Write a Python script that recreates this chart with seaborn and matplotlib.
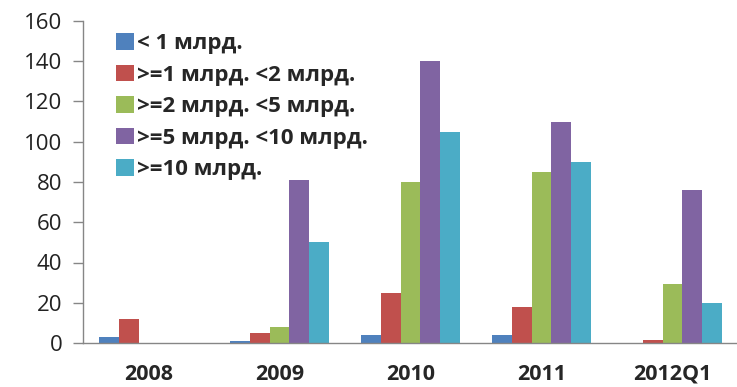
import matplotlib
matplotlib.use("Agg")
import matplotlib.pyplot as plt
import seaborn as sns
import pandas as pd
import numpy as np

# Number of deals by size bracket and period
periods = ["2008", "2009", "2010", "2011", "2012Q1"]
brackets = ["< 1 млрд.", ">=1 млрд. <2 млрд.", ">=2 млрд. <5 млрд.",
            ">=5 млрд. <10 млрд.", ">=10 млрд."]
lt1 = [3, 1, 4, 4, 0]
b1_2 = [12, 5, 25, 18, 1.5]
b2_5 = [0, 8, 80, 85, 29.5]
b5_10 = [0, 81, 140, 110, 76]
ge10 = [0, 50, 105, 90, 20]
colors = ["#4F81BD", "#C0504D", "#9BBB59", "#8064A2", "#4BACC6"]
yticks = [0, 20, 40, 60, 80, 100, 120, 140, 160]

series = [lt1, b1_2, b2_5, b5_10, ge10]
df = pd.DataFrame({
    "period": np.repeat([periods], len(brackets), axis=0).ravel(),
    "bracket": np.repeat(brackets, len(periods)),
    "count": np.concatenate(series),
})

sns.set_style("white")
plt.rcParams["font.family"] = ["Open Sans", "DejaVu Sans"]

fig = plt.figure(figsize=(7.37, 3.87), dpi=100)
ax = fig.add_axes([83 / 737, 1 - 343 / 387, 655 / 737, 322 / 387])

sns.barplot(data=df, x="period", y="count", hue="bracket",
            order=periods, hue_order=brackets, palette=colors,
            width=0.76, saturation=1, edgecolor="none", ax=ax)

ax.set_xlim(-0.5, len(periods) - 0.5)
ax.set_ylim(0, 160)
ax.set_yticks(yticks)
ax.set_xlabel("")
ax.set_ylabel("")

grey = "#868686"
for side in ("top", "right"):
    ax.spines[side].set_visible(False)
for side in ("left", "bottom"):
    ax.spines[side].set_color(grey)
    ax.spines[side].set_linewidth(1)
ax.spines["bottom"].set_clip_on(False)

ax.set_xticks(np.arange(-0.5, len(periods)), minor=True)
ax.tick_params(axis="x", which="major", length=0, pad=15, labelsize=15.5)
ax.tick_params(axis="x", which="minor", length=7, color=grey, width=1)
ax.tick_params(axis="y", which="major", length=7, color=grey, width=1,
               labelsize=16, pad=8, left=True)
for lbl in ax.get_xticklabels():
    lbl.set_fontweight("bold")
for lbl in ax.get_yticklabels():
    lbl.set_color("#222222")

leg = ax.legend(loc="upper left", bbox_to_anchor=(0.033, 0.997),
                frameon=False, borderpad=0, handlelength=0.82,
                handleheight=0.78, handletextpad=0.15, labelspacing=0.47,
                prop={"size": 16, "weight": "bold"})
for h in leg.legend_handles:
    h.set_edgecolor("none")

fig.savefig("out.png", dpi=100)
